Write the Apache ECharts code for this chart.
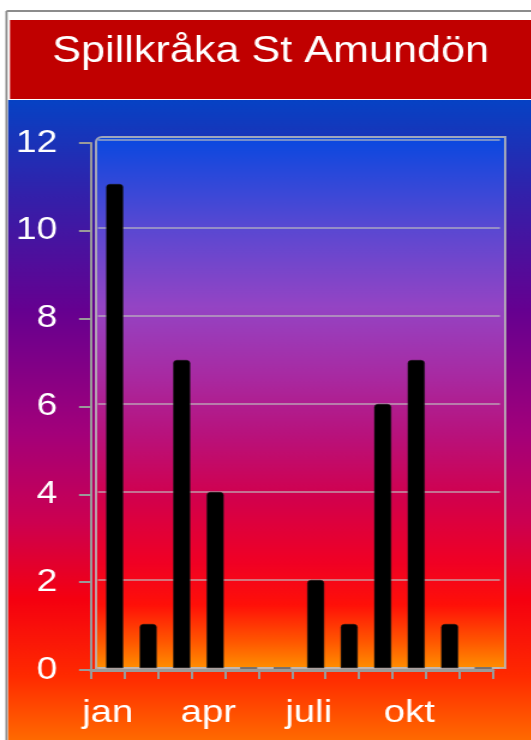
<!DOCTYPE html>
<html>
<head>
<meta charset="utf-8">
<script src="https://cdn.jsdelivr.net/npm/echarts@6/dist/echarts.min.js"></script>
<style>
html,body{margin:0;padding:0;background:#fff;}
#wrap{width:531px;height:740px;overflow:hidden;position:relative;}
#c{width:443px;height:740px;transform:scaleX(1.2);transform-origin:0 0;}
</style>
</head>
<body>
<div id="wrap"><div id="c"></div></div>
<script>
const titleText = 'Spillkråka St Amundön';
const months = ['jan','feb','mar','apr','maj','juni','juli','aug','sep','okt','nov','dec'];
const counts = [11, 1, 7, 4, 0, 0, 2, 1, 6, 7, 1, 0];
const yTicks = {min: 0, max: 12, interval: 2};

const font = 'Liberation Sans, Arial, sans-serif';
const chart = echarts.init(document.getElementById('c'), null, {renderer: 'canvas'});

const outerGrad = new echarts.graphic.LinearGradient(0, 0, 0, 1, [
  {offset: 0, color: '#0642c4'},
  {offset: 0.15, color: '#3320aa'},
  {offset: 0.33, color: '#660090'},
  {offset: 0.52, color: '#a3007a'},
  {offset: 0.66, color: '#cc0050'},
  {offset: 0.78, color: '#f50010'},
  {offset: 0.9, color: '#ff2a00'},
  {offset: 1, color: '#ff6a00'}
]);
const wallGrad = new echarts.graphic.LinearGradient(0, 0, 0, 1, [
  {offset: 0, color: '#0848e0'},
  {offset: 0.17, color: '#5848d2'},
  {offset: 0.32, color: '#9444c4'},
  {offset: 0.45, color: '#a82aa2'},
  {offset: 0.56, color: '#b8127c'},
  {offset: 0.68, color: '#d2004c'},
  {offset: 0.8, color: '#f00024'},
  {offset: 0.88, color: '#ff1008'},
  {offset: 0.95, color: '#ff5800'},
  {offset: 1, color: '#ff9000'}
]);

chart.setOption({
  animation: false,
  backgroundColor: '#ffffff',
  graphic: [
    {type: 'rect', z: -20, shape: {x: 6.7, y: 100, width: 440, height: 640}, style: {fill: outerGrad}},
    {type: 'line', z: -5, shape: {x1: 5.4, y1: 11, x2: 5.4, y2: 740}, style: {stroke: '#8c8c8c', lineWidth: 1.8}},
    {type: 'line', z: -5, shape: {x1: 5.4, y1: 11, x2: 443, y2: 11}, style: {stroke: '#8c8c8c', lineWidth: 2}},
    {type: 'rect', z: -5, shape: {x: 8.3, y: 20, width: 436, height: 79}, style: {fill: '#c00000'}},
    {type: 'text', z: 10, x: 225.5, y: 52, style: {text: titleText, fill: '#ffffff', font: '36px ' + font, align: 'center', verticalAlign: 'middle'}},
    {type: 'rect', z: -10, shape: {x: 80, y: 137, width: 341, height: 531, r: [5, 0, 0, 0]}, style: {fill: wallGrad, stroke: 'rgba(185,185,185,0.85)', lineWidth: 2}}
  ],
  grid: [
    {left: 75.8, right: 32.2, top: 143, bottom: 70},
    {left: 81.6, right: 26.4, top: 140, bottom: 72}
  ],
  xAxis: [
    {
      type: 'category', gridIndex: 0, data: months, boundaryGap: true,
      axisLine: {show: true, lineStyle: {color: '#9a9a9a', width: 3}},
      axisTick: {show: true, alignWithLabel: false, interval: 0, length: 9, lineStyle: {color: '#9a9a9a', width: 2}},
      axisLabel: {interval: 2, color: '#ffffff', fontSize: 32, fontFamily: font, margin: 27},
      splitLine: {show: false}
    },
    {
      type: 'category', gridIndex: 1, data: months, boundaryGap: true,
      axisLine: {show: false}, axisTick: {show: false}, axisLabel: {show: false}
    }
  ],
  yAxis: [
    {
      type: 'value', gridIndex: 0, min: yTicks.min, max: yTicks.max, interval: yTicks.interval,
      axisLine: {show: true, lineStyle: {color: '#9a9a9a', width: 2}},
      axisTick: {show: true, length: 10, lineStyle: {color: '#9a9a9a', width: 2}},
      axisLabel: {color: '#ffffff', fontSize: 31, fontFamily: font, margin: 28},
      splitLine: {show: false}
    },
    {
      type: 'value', gridIndex: 1, min: yTicks.min, max: yTicks.max, interval: yTicks.interval,
      axisLine: {show: false}, axisTick: {show: false}, axisLabel: {show: false},
      splitLine: {show: true, lineStyle: {color: 'rgba(190,190,190,0.6)', width: 2}}
    }
  ],
  series: [
    {
      type: 'bar', xAxisIndex: 1, yAxisIndex: 1, data: counts, barWidth: 14.2,
      itemStyle: {color: '#000000', borderRadius: [3, 3, 0, 0], borderColor: '#1a1a1a', borderWidth: 0.5},
      z: 5
    }
  ]
});
</script>
</body>
</html>
